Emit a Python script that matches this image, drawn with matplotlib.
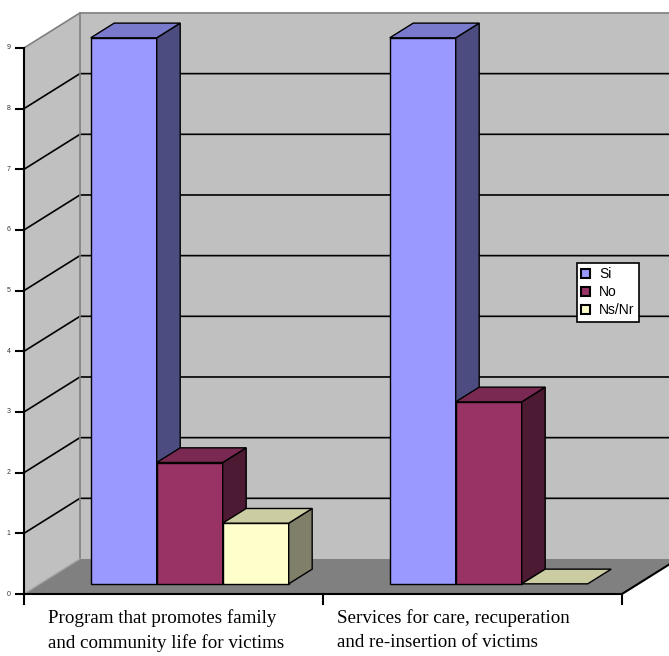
#!/usr/bin/env python3
"""
Grafico de columnas 3D (estilo Excel antiguo) con matplotlib
"""

import matplotlib
matplotlib.use("Agg")
import matplotlib.pyplot as plt
from matplotlib.patches import Polygon, Patch

# datos
categories = ["Program that promotes family\nand community life for victims",
              "Services for care, recuperation\nand re-insertion of victims"]
series = ["Si", "No", "Ns/Nr"]
si = [9, 9]
no = [2, 3]
nsnr = [1, 0]
yticks = list(range(0, 10))

# colores: frente, tapa, lado
colors = {
    "Si": ("#9999FF", "#7A7ACC", "#4C4C80"),
    "No": ("#993366", "#7A2952", "#4D1A33"),
    "Ns/Nr": ("#FFFFCC", "#CCCCA3", "#80806A"),
}

# geometria 3D (unidades de datos)
DX = 0.187      # profundidad en x (categorias)
DY = 0.577      # profundidad en y (valores)
F0, F1 = 0.29, 0.71   # profundidad de las barras
BAR_W = 0.2207
YMAX = 9


def proj(x, y, f):
    return (x + f * DX, y + f * DY)


def poly(ax, pts, fc, ec="black", lw=1.0, z=1):
    ax.add_patch(Polygon(pts, closed=True, facecolor=fc, edgecolor=ec,
                         linewidth=lw, zorder=z, joinstyle="miter"))


def draw_bar(ax, x0, h, cols, z):
    front, top, side = cols
    x1 = x0 + BAR_W
    if h > 0:
        poly(ax, [proj(x0, 0, F0), proj(x1, 0, F0), proj(x1, h, F0), proj(x0, h, F0)], front, z=z)
        poly(ax, [proj(x1, 0, F0), proj(x1, 0, F1), proj(x1, h, F1), proj(x1, h, F0)], side, z=z)
    poly(ax, [proj(x0, h, F0), proj(x1, h, F0), proj(x1, h, F1), proj(x0, h, F1)], top, z=z)


def main():
    fig = plt.figure(figsize=(6.69, 6.56), dpi=100)
    ax = fig.add_axes([0, 0, 1, 1])
    ax.set_xlim(-24 / 299, 645 / 299)
    ax.set_ylim(-62 / 60.67, 594 / 60.67)
    ax.axis("off")

    n = len(categories)

    # paredes y piso
    poly(ax, [proj(0, 0, 1), proj(n + 1, 0, 1), proj(n + 1, YMAX, 1), proj(0, YMAX, 1)],
         "#C0C0C0", ec="none", z=0)
    poly(ax, [(0, 0), proj(0, 0, 1), proj(0, YMAX, 1), (0, YMAX)], "#C0C0C0", ec="none", z=0)
    poly(ax, [(0, 0), (n, 0), proj(n, 0, 1), proj(0, 0, 1)], "#808080", ec="none", z=0)

    # lineas de grilla
    for v in yticks[1:-1]:
        ax.plot([0, proj(0, v, 1)[0], proj(n + 1, v, 1)[0]],
                [v, proj(0, v, 1)[1], proj(n + 1, v, 1)[1]],
                color="black", lw=1.2, zorder=0.5)

    # bordes grises de las paredes
    ax.plot([0, proj(0, YMAX, 1)[0], proj(n + 1, YMAX, 1)[0]],
            [YMAX, proj(0, YMAX, 1)[1], proj(n + 1, YMAX, 1)[1]],
            color="#808080", lw=1.2, zorder=0.6)
    ax.plot([proj(0, 0, 1)[0], proj(0, YMAX, 1)[0]],
            [proj(0, 0, 1)[1], proj(0, YMAX, 1)[1]], color="#808080", lw=1.2, zorder=0.6)
    ax.plot([0, proj(0, 0, 1)[0]], [0, proj(0, 0, 1)[1]], color="#A0A0A0", lw=1.0, zorder=0.6)

    # ejes frontales
    ax.plot([0, 0], [0, YMAX], color="black", lw=1.5, zorder=3)
    ax.plot([0, n, proj(n, 0, 1)[0]], [0, 0, proj(n, 0, 1)[1]], color="black", lw=1.5, zorder=3)
    for v in yticks:
        ax.plot([-0.027, 0], [v, v], color="black", lw=1.5, zorder=3)
        ax.text(-0.045, v, str(v), ha="right", va="center", fontsize=5,
                family="Liberation Sans", color="#333333")
    for i in range(n + 1):
        ax.plot([i, i], [0, -0.17], color="black", lw=1.5, zorder=3)

    # barras
    values = {"Si": si, "No": no, "Ns/Nr": nsnr}
    z = 2
    for i in range(n):
        start = i + 0.5 - 1.5 * BAR_W
        for j, s in enumerate(series):
            draw_bar(ax, start + j * BAR_W, values[s][i], colors[s], z)
            z += 0.01

    # etiquetas de categorias
    label_x = [0.08, 1.047]
    for i, lab in enumerate(categories):
        ax.text(label_x[i], -0.25, lab, ha="left", va="top", fontsize=13.7,
                family="Liberation Serif", linespacing=1.5)

    # leyenda
    handles = [Patch(facecolor=colors[s][0], edgecolor="black", linewidth=1.5) for s in series]
    leg = fig.legend(handles, series, loc="upper left",
                     bbox_to_anchor=(577 / 669, 1 - 263 / 656),
                     prop={"family": "Liberation Sans", "size": 10},
                     frameon=True, fancybox=False, framealpha=1,
                     handlelength=0.6, handleheight=0.6, handletextpad=0.7,
                     borderpad=0.3, borderaxespad=0, labelspacing=0.3)
    leg.get_frame().set_edgecolor("black")
    leg.get_frame().set_linewidth(1.2)

    fig.savefig("out.png", dpi=100)


if __name__ == "__main__":
    main()
